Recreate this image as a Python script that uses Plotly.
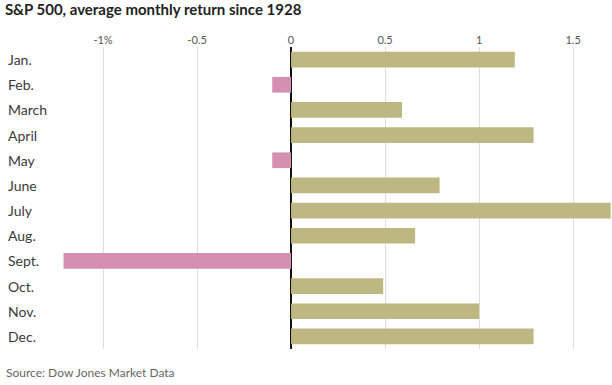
import plotly.graph_objects as go

months = ["Jan.", "Feb.", "March", "April", "May", "June", "July", "Aug.", "Sept.", "Oct.", "Nov.", "Dec."]
returns = [1.19, -0.10, 0.59, 1.29, -0.10, 0.79, 1.70, 0.66, -1.21, 0.49, 1.00, 1.29]
tick_vals = [-1, -0.5, 0, 0.5, 1, 1.5]
tick_text = ["-1%", "-0.5", "0", "0.5", "1", "1.5"]

POS = "#bdb882"
NEG = "#d48fb1"
colors = [POS if v >= 0 else NEG for v in returns]

fig = go.Figure(go.Bar(
    x=returns, y=months, orientation="h",
    marker=dict(color=colors, line=dict(width=0)),
    hoverinfo="skip",
))

for m in months:
    fig.add_annotation(x=0.0095, xref="paper", y=m, yref="y", text=m, showarrow=False,
                       xanchor="left", yanchor="middle",
                       font=dict(family="Lato", size=14, color="#3a3a3a"))

fig.update_layout(
    width=612, height=385,
    margin=dict(l=0, r=0, t=47, b=36),
    paper_bgcolor="white", plot_bgcolor="white",
    bargap=0.375,
    showlegend=False,
    font=dict(family="Lato"),
    title=dict(text="<b>S&P 500, average monthly return since 1928</b>", x=0.008, xanchor="left",
               y=0.975, yanchor="middle", font=dict(family="Lato", size=15, color="#222222")),
    xaxis=dict(range=[-1.548, 1.707], side="top", tickvals=tick_vals, ticktext=tick_text,
               showgrid=True, gridcolor="#dddddd", gridwidth=1,
               zeroline=True, zerolinecolor="#111111", zerolinewidth=1.5,
               tickfont=dict(family="Lato", size=11, color="#555555"), ticks="", showline=False,
               fixedrange=True),
    yaxis=dict(autorange="reversed", showticklabels=False, showgrid=False, zeroline=False,
               ticks="", fixedrange=True),
)

fig.add_annotation(x=0.006, xref="paper", y=-0.078, yref="paper", text="Source: Dow Jones Market Data",
                   showarrow=False, xanchor="left", yanchor="middle",
                   font=dict(family="Lato", size=12, color="#666666"))

fig.write_html("out.html", config={"displayModeBar": False},
               post_script="document.body.style.margin='0';document.body.style.overflow='hidden';")
